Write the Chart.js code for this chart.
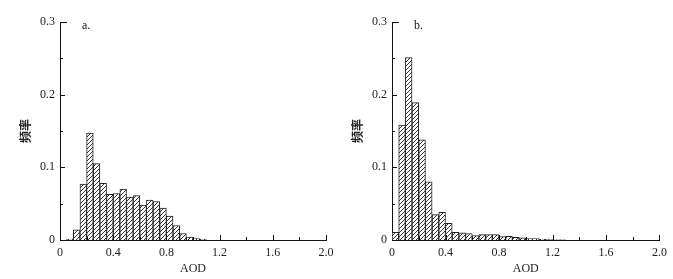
<!DOCTYPE html>
<html>
<head>
<meta charset="utf-8">
<script src="https://cdn.jsdelivr.net/npm/chart.js@4/dist/chart.umd.min.js"></script>
<style>
  body { margin: 0; background: #fff; }
  #wrap { position: relative; width: 673px; height: 279px; overflow: hidden; }
  canvas { position: absolute; top: 0; }
</style>
</head>
<body>
<div id="wrap">
  <canvas id="chartA" width="340" height="279" style="left:0"></canvas>
  <canvas id="chartB" width="341" height="279" style="left:332px"></canvas>
</div>
<script>
// bin centres (AOD, bins 0.05 wide)
const aodBins = [0.025, 0.075, 0.125, 0.175, 0.225, 0.275, 0.325, 0.375, 0.425, 0.475,
                 0.525, 0.575, 0.625, 0.675, 0.725, 0.775, 0.825, 0.875, 0.925, 0.975,
                 1.025, 1.075, 1.125, 1.175, 1.225, 1.275];

// frequencies
const freqA = [0, 0.0014, 0.014, 0.077, 0.147, 0.105, 0.078, 0.063, 0.064, 0.070,
               0.059, 0.061, 0.048, 0.055, 0.053, 0.044, 0.033, 0.020, 0.009, 0.004,
               0.002, 0.001, 0, 0, 0, 0];
const freqB = [0.0106, 0.158, 0.251, 0.189, 0.138, 0.080, 0.035, 0.038, 0.023, 0.0106,
               0.010, 0.009, 0.006, 0.0074, 0.0074, 0.0074, 0.0046, 0.005, 0.0037, 0.003,
               0.002, 0.002, 0.001, 0.0006, 0.0004, 0.0003];

const xTicks = [0, 0.4, 0.8, 1.2, 1.6, 2.0];
const yTicks = [0, 0.1, 0.2, 0.3];
const panelLabels = ["a.", "b."];

const serif = "'Liberation Serif', 'DejaVu Serif', serif";

function hatch() {
    // diagonal "////" fill like the printed figure
    let c = document.createElement("canvas");
    c.width = 4; c.height = 4;
    let g = c.getContext("2d");
    g.fillStyle = "#fff";
    g.fillRect(0, 0, 4, 4);
    g.strokeStyle = "#333";
    g.lineWidth = 1;
    g.beginPath();
    g.moveTo(0, 4); g.lineTo(4, 0);
    g.moveTo(-1, 1); g.lineTo(1, -1);
    g.moveTo(3, 5); g.lineTo(5, 3);
    g.stroke();
    return g.createPattern(c, "repeat");
}

// ticks point into the plot, like the original
const innerTicks = {
    id: "innerTicks",
    afterDraw(chart) {
        const ctx = chart.ctx, x = chart.scales.x, y = chart.scales.y;
        const left = chart.chartArea.left, bottom = chart.chartArea.bottom;
        ctx.save();
        ctx.strokeStyle = "#111";
        ctx.lineWidth = 1;
        ctx.beginPath();
        for (let v = 0.05; v <= 0.3001; v += 0.05) {
            let py = Math.round(y.getPixelForValue(v)) + 0.5;
            let major = Math.abs(v * 10 - Math.round(v * 10)) < 0.01;
            let len = v > 0.29 ? 7 : (major ? 5 : 3);
            ctx.moveTo(left, py); ctx.lineTo(left + len, py);
        }
        for (let v = 0.2; v <= 2.0001; v += 0.2) {
            let px = Math.round(x.getPixelForValue(v)) + 0.5;
            let major = Math.abs(v / 0.4 - Math.round(v / 0.4)) < 0.01;
            let len = major ? 5 : 3;
            ctx.moveTo(px, bottom); ctx.lineTo(px, bottom - len);
        }
        ctx.stroke();
        ctx.restore();
    }
};

const panelLabel = {
    id: "panelLabel",
    afterDraw(chart, args, opts) {
        const ctx = chart.ctx;
        ctx.save();
        ctx.fillStyle = "#111";
        ctx.font = "12px " + serif;
        ctx.textBaseline = "top";
        ctx.fillText(opts.text, chart.chartArea.left + 22, chart.chartArea.top - 2);
        ctx.restore();
    }
};

function addHistogram(canvas_id, values, label, pad) {
    const points = aodBins.map((b, i) => ({ x: b, y: values[i] }));
    return new Chart(document.getElementById(canvas_id), {
        type: "bar",
        data: {
            datasets: [{
                data: points,
                backgroundColor: hatch(),
                borderColor: "#222",
                borderWidth: 1,
                barPercentage: 1,
                categoryPercentage: 1
            }]
        },
        options: {
            responsive: false,
            animation: false,
            layout: { padding: pad },
            plugins: {
                legend: { display: false },
                tooltip: { enabled: false },
                panelLabel: { text: label }
            },
            scales: {
                x: {
                    type: "linear",
                    min: 0, max: 2.0,
                    offset: false,
                    afterBuildTicks: (s) => { s.ticks = xTicks.map(v => ({ value: v })); },
                    afterFit: (s) => { s.height = 39; },
                    grid: { display: false, drawTicks: false },
                    border: { display: true, color: "#111", width: 1 },
                    ticks: {
                        autoSkip: false, maxRotation: 0, padding: 6, color: "#222",
                        font: { family: serif, size: 12 },
                        callback: (v) => v === 0 ? "0" : v.toFixed(1)
                    },
                    title: {
                        display: true, text: "AOD", color: "#222",
                        font: { family: serif, size: 12 },
                        padding: { top: 1, bottom: 3 }
                    }
                },
                y: {
                    min: 0, max: 0.3,
                    afterBuildTicks: (s) => { s.ticks = yTicks.map(v => ({ value: v })); },
                    afterFit: (s) => { s.width = 60; },
                    grid: { display: false, drawTicks: false },
                    border: { display: true, color: "#111", width: 1 },
                    ticks: {
                        padding: 5, color: "#222",
                        font: { family: serif, size: 12 },
                        callback: (v) => v === 0 ? "0" : v.toFixed(1)
                    },
                    title: {
                        display: true, text: "频率", color: "#222",
                        font: { family: "'Noto Sans CJK SC', sans-serif", size: 12, weight: "bold" },
                        padding: { top: 18, bottom: 0 }
                    }
                }
            }
        },
        plugins: [innerTicks, panelLabel]
    });
}

addHistogram("chartA", freqA, panelLabels[0], { left: 0, right: 14, top: 22, bottom: 0 });
addHistogram("chartB", freqB, panelLabels[1], { left: 0, right: 13, top: 22, bottom: 0 });
</script>
</body>
</html>
